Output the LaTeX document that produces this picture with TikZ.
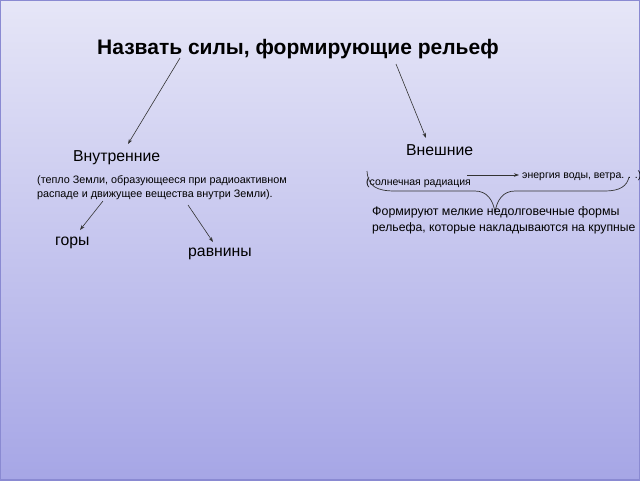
\documentclass[tikz,border=0pt]{standalone}
\usepackage{fontspec}
\setmainfont{Liberation Sans}
\usepackage{tikz}
\usetikzlibrary{arrows.meta}

\definecolor{bgtop}{HTML}{E6E6F7}
\definecolor{bgbot}{HTML}{A6A6E6}
\definecolor{frame}{HTML}{8A8AD2}

\tikzset{
  pointer/.style={-{Stealth[length=5pt,width=3.5pt]}, line width=0.6pt, color=black!80},
  txt/.style={anchor=base west, inner sep=0pt, text=black},
}

\begin{document}
\begin{tikzpicture}[x=1pt, y=-1pt]
    \useasboundingbox (0,0) rectangle (640,480);
    \shade[top color=bgtop, bottom color=bgbot] (0,0) rectangle (640,480);
    \draw[frame, line width=2pt] (0,0) rectangle (640,480);

    % Title and the two groups of forces
    \node[txt, font=\fontsize{21}{24}\selectfont\bfseries] (title) at (97,54) {Назвать силы, формирующие рельеф};
    \node[txt, font=\fontsize{15.8}{18}\selectfont] (inner) at (73,161) {Внутренние};
    \node[txt, font=\fontsize{15.8}{18}\selectfont] (outer) at (406,155) {Внешние};

    \coordinate (t1) at (180,58);
    \coordinate (t2) at (396,64);
    \coordinate (i1) at (128,144);
    \coordinate (o1) at (426,138);
    \draw[pointer] (t1) -- (i1);
    \draw[pointer] (t2) -- (o1);

    % Inner forces
    \node[txt, font=\fontsize{10.8}{14}\selectfont] (heat1) at (37,183) {(тепло Земли, образующееся при радиоактивном};
    \node[txt, font=\fontsize{10.8}{14}\selectfont] (heat2) at (37,197) {распаде и движущее вещества внутри Земли).};
    \node[txt, font=\fontsize{15.8}{18}\selectfont] (mount) at (55,245) {горы};
    \node[txt, font=\fontsize{15.8}{18}\selectfont] (plain) at (188,256) {равнины};

    \coordinate (h1) at (103,201);
    \coordinate (m1) at (80,230);
    \coordinate (h2) at (188,205);
    \coordinate (p1) at (213,242);
    \draw[pointer] (h1) -- (m1);
    \draw[pointer] (h2) -- (p1);

    % Outer forces
    \node[txt, font=\fontsize{10.5}{14}\selectfont] (sun) at (366,185) {(солнечная радиация};
    \node[txt, font=\fontsize{10.5}{14}\selectfont] (water) at (522,178) {энергия воды, ветра. . .)};
    \coordinate (s1) at (467,175);
    \coordinate (w1) at (519,175);
    \draw[pointer] (s1) -- (w1);

    \coordinate (bl) at (367,171);
    \coordinate (bm) at (495,212);
    \coordinate (br) at (629,177);
    \draw[line width=0.7pt, black!80] (bl) .. controls (368,186) and (376,191) .. (395,191)
        -- (475,191) .. controls (487,191) and (493,200) .. (bm)
        .. controls (497,200) and (503,191) .. (515,191)
        -- (605,191) .. controls (620,191) and (627,186) .. (br);

    \node[txt, font=\fontsize{12.4}{16}\selectfont] (form1) at (372,215) {Формируют мелкие недолговечные формы};
    \node[txt, font=\fontsize{12.2}{16}\selectfont] (form2) at (372,231) {рельефа, которые накладываются на крупные};
\end{tikzpicture}
\end{document}
